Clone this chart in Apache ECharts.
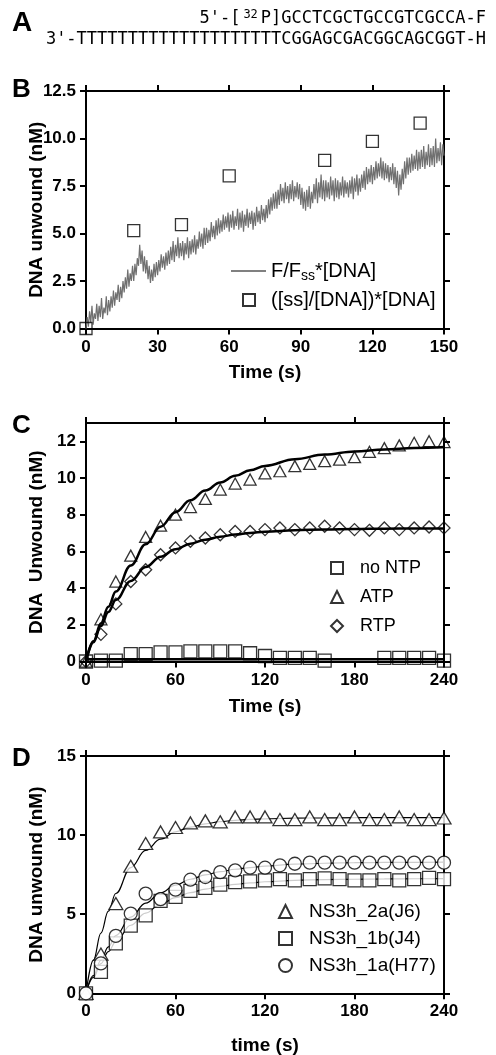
<!DOCTYPE html>
<html>
<head>
<meta charset="utf-8">
<script src="https://cdn.jsdelivr.net/npm/echarts@6/dist/echarts.min.js"></script>
<style>
  html, body { margin: 0; padding: 0; background: #fff; }
  #chart { width: 496px; height: 1055px; }
</style>
</head>
<body>
<div id="chart"></div>
<script>
// ---- panel A: duplex substrate ----
const strandTop = "5'-[{sup|32}P]GCCTCGCTGCCGTCGCCA-F";
const strandBottom = "3'-" + "TTTTT" + "TTTTT" + "TTTTT" + "TTTTT" + "CGGAGCGACGGCAGCGGT-H";

// ---- panel B: fluorescence trace (0.5 s sampling) and quench points ----
const bTimeStep = 0.5;
const bTrace = [
  0.0, 0.6, 0.1, 0.9, 0.3, 1.2, 0.2, 0.8, 0.5, 1.3,
  0.4, 1.2, 0.6, 1.6, 0.5, 1.1, 0.8, 1.7, 0.7, 1.5,
  0.9, 1.7, 1.1, 2.0, 1.2, 1.9, 1.5, 2.3, 1.4, 2.2,
  1.6, 2.5, 1.9, 2.7, 2.1, 3.1, 2.2, 2.9, 2.5, 3.3,
  2.5, 3.4, 2.8, 3.7, 3.3, 4.4, 3.4, 4.1, 3.0, 3.8,
  2.9, 3.6, 2.6, 3.3, 2.4, 3.1, 2.5, 3.4, 2.7, 3.5,
  2.8, 3.6, 3.0, 3.9, 3.2, 3.8, 3.1, 4.0, 3.3, 4.1,
  3.4, 4.3, 3.6, 4.6, 3.5, 4.4, 3.8, 4.8, 3.7, 4.5,
  3.8, 4.6, 3.6, 4.5, 3.9, 4.8, 3.7, 4.6, 3.9, 4.7,
  4.0, 4.9, 3.9, 4.7, 4.2, 5.1, 4.3, 5.0, 4.2, 5.3,
  4.4, 5.3, 4.5, 5.2, 4.6, 5.6, 4.8, 5.4, 4.7, 5.7,
  4.9, 5.8, 5.0, 5.7, 5.1, 6.0, 5.2, 5.9, 5.3, 6.1,
  5.1, 6.0, 5.3, 6.2, 5.2, 5.9, 5.4, 6.3, 5.2, 6.1,
  5.3, 6.2, 5.1, 6.0, 5.4, 6.3, 5.3, 6.1, 5.5, 6.2,
  5.2, 6.1, 5.4, 6.4, 5.6, 6.2, 5.5, 6.5, 5.7, 6.3,
  5.6, 6.5, 5.8, 6.8, 6.0, 6.9, 6.2, 7.1, 6.3, 7.2,
  6.3, 7.3, 6.5, 7.6, 6.7, 7.4, 6.6, 7.7, 6.8, 7.5,
  6.6, 7.6, 6.8, 7.8, 6.7, 7.5, 6.9, 7.7, 6.8, 7.6,
  6.5, 7.4, 6.3, 7.2, 6.2, 7.3, 6.4, 7.5, 6.3, 7.2,
  6.6, 7.6, 6.8, 7.9, 6.6, 7.7, 6.9, 8.1, 6.8, 7.8,
  6.7, 7.8, 6.9, 7.7, 6.8, 8.0, 7.0, 7.8, 6.7, 7.9,
  6.9, 7.8, 6.8, 7.7, 7.0, 8.0, 6.9, 7.8, 7.1, 7.7,
  6.9, 7.8, 7.1, 8.0, 6.8, 7.9, 7.2, 8.1, 7.0, 7.9,
  7.2, 8.1, 7.4, 8.3, 7.3, 8.5, 7.6, 8.4, 7.7, 8.6,
  7.6, 8.5, 7.8, 8.8, 7.9, 8.7, 8.0, 9.0, 7.9, 8.8,
  7.8, 8.7, 7.9, 8.6, 7.7, 8.5, 7.8, 8.7, 7.6, 8.5,
  7.4, 8.3, 7.0, 8.1, 7.3, 8.4, 7.6, 8.8, 7.9, 9.0,
  8.1, 9.0, 8.2, 9.2, 8.3, 9.1, 8.4, 9.4, 8.3, 9.3,
  8.4, 9.4, 8.5, 9.6, 8.4, 9.3, 8.6, 9.7, 8.5, 9.5,
  8.6, 9.6, 8.5, 10.0, 8.7, 9.5, 8.8, 9.8, 8.6, 9.7,
  9.1
];
const bSsTimes = [0, 20, 40, 60, 100, 120, 140];
const bSsValues = [0, 5.15, 5.47, 8.03, 8.85, 9.85, 10.81];

// ---- panel C: NTP dependence ----
const cTimes = [0, 10, 20, 30, 40, 50, 60, 70, 80, 90, 100, 110, 120, 130, 140, 150, 160, 170, 180, 190, 200, 210, 220, 230, 240];
const cNoNtp = [0, 0.05, 0.05, 0.4, 0.4, 0.5, 0.5, 0.55, 0.55, 0.55, 0.55, 0.45, 0.3, 0.2, 0.2, 0.2, 0.05, null, null, null, 0.2, 0.2, 0.2, 0.2, 0.05];
const cAtp = [0, 2.3, 4.36, 5.77, 6.79, 7.4, 8.0, 8.42, 8.86, 9.37, 9.7, 9.92, 10.25, 10.37, 10.65, 10.77, 10.92, 11.0, 11.14, 11.43, 11.63, 11.78, 11.92, 12.01, 11.96];
const cRtp = [0, 1.48, 3.14, 4.36, 5.0, 5.82, 6.19, 6.55, 6.73, 6.91, 7.09, 7.09, 7.19, 7.28, 7.19, 7.28, 7.37, 7.28, 7.19, 7.15, 7.28, 7.19, 7.28, 7.33, 7.28];
const cFitTimes = [0, 5, 10, 15, 20, 30, 40, 50, 60, 70, 80, 90, 100, 110, 120, 140, 160, 180, 200, 220, 240];
const cAtpFit = [0, 1.10, 2.09, 2.99, 3.81, 5.23, 6.39, 7.35, 8.14, 8.79, 9.32, 9.76, 10.12, 10.42, 10.66, 11.03, 11.28, 11.45, 11.56, 11.64, 11.69];
const cRtpFit = [0, 1.05, 1.93, 2.70, 3.35, 4.39, 5.15, 5.71, 6.12, 6.42, 6.64, 6.80, 6.92, 7.01, 7.07, 7.16, 7.20, 7.22, 7.24, 7.25, 7.25];
const cNoNtpFitTimes = [0, 240];
const cNoNtpFit = [0.12, 0.12];

// ---- panel D: NS3h genotypes ----
const dTimes = [0, 10, 20, 30, 40, 50, 60, 70, 80, 90, 100, 110, 120, 130, 140, 150, 160, 170, 180, 190, 200, 210, 220, 230, 240];
const d2a = [0, 2.48, 5.67, 8.03, 9.47, 10.2, 10.48, 10.77, 10.9, 10.84, 11.15, 11.15, 11.15, 10.98, 10.98, 11.15, 10.98, 10.98, 11.15, 10.98, 10.98, 11.15, 10.98, 10.98, 11.08];
const d1b = [0, 1.36, 3.15, 4.28, 4.93, 5.84, 6.09, 6.47, 6.66, 6.87, 7.03, 7.08, 7.14, 7.22, 7.14, 7.22, 7.27, 7.22, 7.14, 7.14, 7.22, 7.14, 7.22, 7.29, 7.22];
const d1a = [0, 1.89, 3.63, 5.04, 6.3, 5.95, 6.55, 7.18, 7.35, 7.66, 7.77, 7.94, 7.94, 8.09, 8.19, 8.26, 8.26, 8.26, 8.26, 8.26, 8.26, 8.26, 8.26, 8.26, 8.26];
const dFitTimes = [0, 5, 10, 15, 20, 30, 40, 50, 60, 70, 80, 90, 100, 110, 120, 140, 160, 180, 200, 220, 240];
const d2aFit = [0, 2.10, 3.81, 5.19, 6.31, 7.95, 9.03, 9.74, 10.21, 10.51, 10.71, 10.85, 10.93, 10.99, 11.03, 11.07, 11.09, 11.10, 11.10, 11.10, 11.10];
const d1bFit = [0, 1.01, 1.88, 2.63, 3.27, 4.30, 5.07, 5.63, 6.05, 6.36, 6.59, 6.76, 6.89, 6.98, 7.05, 7.14, 7.19, 7.21, 7.23, 7.24, 7.25];
const d1aFit = [0, 1.12, 2.09, 2.93, 3.65, 4.82, 5.70, 6.35, 6.84, 7.21, 7.48, 7.69, 7.84, 7.95, 8.04, 8.16, 8.22, 8.26, 8.27, 8.28, 8.29];

const FONT = "'Liberation Sans', Arial, Helvetica, sans-serif";
const MONO = "'DejaVu Sans Mono', monospace";

function pairs(xs, ys) {
  return xs.map((x, i) => [x, ys[i]]);
}

function baseAxis(extra) {
  return Object.assign({
    type: 'value',
    splitLine: { show: false },
    axisLine: { show: true, onZero: false, lineStyle: { color: '#000', width: 2 } },
    axisTick: { show: true, inside: false, length: 6, lineStyle: { color: '#000', width: 2 } },
    axisLabel: { show: true, color: '#000', fontSize: 17, fontWeight: 'bold', fontFamily: FONT, margin: 10 },
    nameTextStyle: { color: '#000', fontSize: 19, fontWeight: 'bold', fontFamily: FONT },
    nameLocation: 'middle',
    nameMoveOverlap: false
  }, extra);
}

// bottom + mirrored top x axis, left + mirrored right y axis for one panel
function xAxes(grid, max, interval, name, gap) {
  return [
    baseAxis({ gridIndex: grid, position: 'bottom', min: 0, max: max, interval: interval, name: name, nameGap: gap }),
    baseAxis({ gridIndex: grid, position: 'top', min: 0, max: max, interval: interval,
      axisLabel: { show: false } })
  ];
}
function yAxes(grid, max, interval, name, fmt) {
  return [
    baseAxis({ gridIndex: grid, position: 'left', min: 0, max: max, interval: interval, name: name, nameGap: 40,
      axisLabel: { show: true, color: '#000', fontSize: 17, fontWeight: 'bold', fontFamily: FONT, margin: 10,
        showMaxLabel: max % interval === 0, formatter: fmt } }),
    baseAxis({ gridIndex: grid, position: 'right', min: 0, max: max, interval: interval,
      axisLabel: { show: false } })
  ];
}

const hollow = { color: 'transparent', borderColor: '#000', borderWidth: 1.3 };
const hollowWhite = { color: '#fff', borderColor: '#000', borderWidth: 1.3 };

function scatter(name, x, y, xi, symbol, size, style) {
  return { type: 'scatter', name: name, xAxisIndex: xi, yAxisIndex: xi, data: pairs(x, y),
    symbol: symbol, symbolSize: size, itemStyle: style, clip: false, z: 4 };
}
function fit(name, x, y, xi, width) {
  return { type: 'line', name: name, xAxisIndex: xi, yAxisIndex: xi, data: pairs(x, y),
    symbol: 'none', smooth: 0.4, smoothMonotone: 'x', lineStyle: { color: '#000', width: width }, z: 3 };
}

const chart = echarts.init(document.getElementById('chart'), null, { renderer: 'canvas' });

const letter = (t, top, size) => ({ text: t, left: 12, top: top, padding: 0,
  textStyle: { color: '#000', fontSize: size, fontWeight: 'bold', fontFamily: FONT } });

// square legend icons with a spacer before the text
function symbolLegend(names, left, top, icon, gap, size, spacer) {
  return { data: names, orient: 'vertical', left: left, top: top, itemWidth: icon, itemHeight: icon,
    itemGap: gap, selectedMode: false,
    formatter: n => '{g|}' + n,
    textStyle: { color: '#000', fontSize: size, fontFamily: FONT,
      rich: { g: { width: spacer } } } };
}

const option = {
  backgroundColor: '#fff',
  animation: false,
  title: [letter('A', 9, 28), letter('B', 77, 26), letter('C', 413, 26), letter('D', 746, 26)],
  graphic: [
    { type: 'text', x: 486, y: 19, style: { text: strandTop, align: 'right', verticalAlign: 'middle',
        fontSize: 17, fontFamily: MONO, fill: '#000',
        rich: { sup: { fontSize: 12, fontFamily: MONO, padding: [0, 3, 9, 3] } } } },
    { type: 'text', x: 486, y: 40, style: { text: strandBottom, align: 'right', verticalAlign: 'middle',
        fontSize: 17, fontFamily: MONO, fill: '#000' } }
  ],
  grid: [
    { left: 86, top: 91, width: 358, height: 237.5, outerBoundsMode: 'none' },
    { left: 86, top: 423, width: 358, height: 238.5, outerBoundsMode: 'none' },
    { left: 86, top: 756, width: 358, height: 237.3, outerBoundsMode: 'none' }
  ],
  xAxis: [].concat(
    xAxes(0, 150, 30, 'Time (s)', 35),
    xAxes(1, 240, 60, 'Time (s)', 36),
    xAxes(2, 240, 60, 'time (s)', 43)
  ),
  yAxis: [].concat(
    yAxes(0, 12.5, 2.5, 'DNA unwound (nM)', v => v.toFixed(1)),
    yAxes(1, 13, 2, 'DNA  Unwound (nM)'),
    yAxes(2, 15, 5, 'DNA unwound (nM)')
  ),
  legend: [
    { data: ['F/Fss*[DNA]'], left: 225, top: 256, itemWidth: 35, itemHeight: 12, selectedMode: false,
      itemStyle: { opacity: 0 }, lineStyle: { color: '#808080', width: 2 },
      formatter: () => 'F/F{sub|ss}*[DNA]',
      textStyle: { color: '#000', fontSize: 20, fontFamily: FONT,
        rich: { sub: { fontSize: 14, fontFamily: FONT, padding: [10, 0, 0, 0] } } } },
    symbolLegend(['([ss]/[DNA])*[DNA]'], 237, 285, 12, 0, 20, 11),
    symbolLegend(['no NTP', 'ATP', 'RTP'], 325, 554, 12, 11, 18, 12),
    symbolLegend(['NS3h_2a(J6)', 'NS3h_1b(J4)', 'NS3h_1a(H77)'], 273, 897, 13, 8, 19, 12)
  ],
  series: [
    { type: 'line', name: 'F/Fss*[DNA]', xAxisIndex: 0, yAxisIndex: 0,
      data: bTrace.map((v, i) => [i * bTimeStep, v]), symbol: 'none',
      lineStyle: { color: '#707070', width: 1.2 }, itemStyle: { color: '#707070' }, z: 2 },
    scatter('([ss]/[DNA])*[DNA]', bSsTimes, bSsValues, 0, 'rect', 12, hollow),

    fit('no NTP fit', cNoNtpFitTimes, cNoNtpFit, 2, 2.5),
    fit('ATP fit', cFitTimes, cAtpFit, 2, 2.5),
    fit('RTP fit', cFitTimes, cRtpFit, 2, 2.5),
    scatter('no NTP', cTimes, cNoNtp, 2, 'rect', 13, hollow),
    scatter('ATP', cTimes, cAtp, 2, 'triangle', [12, 11], hollow),
    scatter('RTP', cTimes, cRtp, 2, 'diamond', [12, 12], hollow),

    fit('2a fit', dFitTimes, d2aFit, 4, 1.2),
    fit('1b fit', dFitTimes, d1bFit, 4, 1.2),
    fit('1a fit', dFitTimes, d1aFit, 4, 1.2),
    scatter('NS3h_2a(J6)', dTimes, d2a, 4, 'triangle', [14, 12], hollowWhite),
    scatter('NS3h_1b(J4)', dTimes, d1b, 4, 'rect', 13, hollowWhite),
    scatter('NS3h_1a(H77)', dTimes, d1a, 4, 'circle', 13, hollowWhite)
  ]
};

chart.setOption(option);
</script>
</body>
</html>
